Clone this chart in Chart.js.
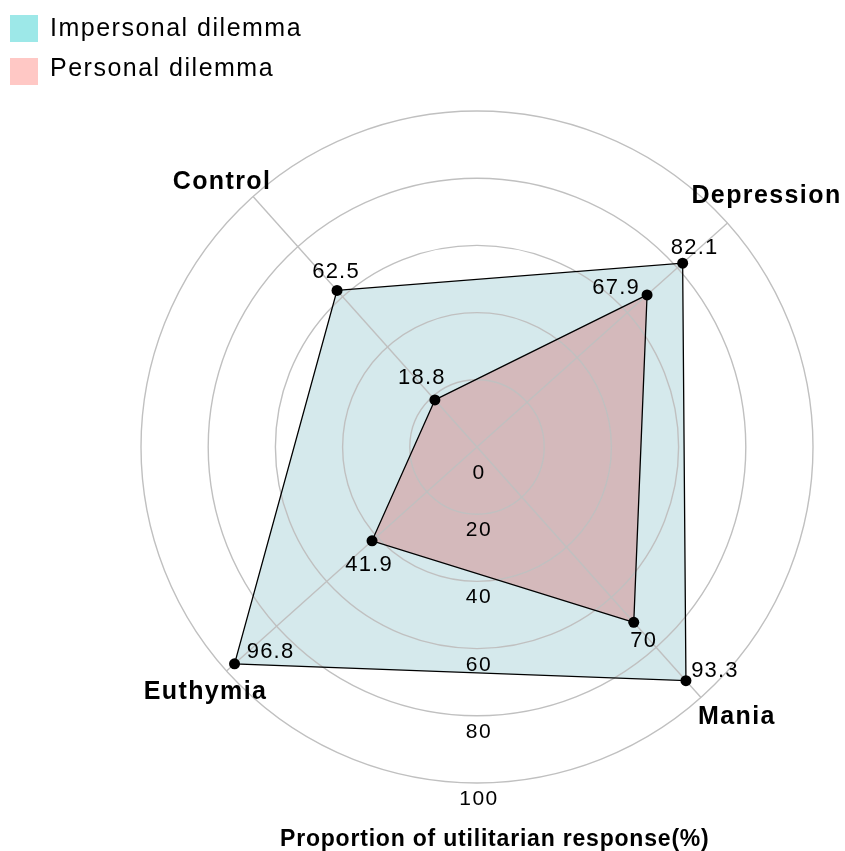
<!DOCTYPE html>
<html>
<head>
<meta charset="utf-8">
<script src="https://cdn.jsdelivr.net/npm/chart.js@4"></script>
<style>
  body { margin: 0; background: #fff; font-family: "Liberation Sans", Arial, sans-serif; }
  #quadro { position: relative; width: 845px; height: 851px; }
  #radar { position: absolute; left: 0; top: 0; }
  .chave { position: absolute; left: 10px; width: 28px; height: 27px; }
  .chaveTexto { position: absolute; left: 50px; font-size: 25px; line-height: 25px; letter-spacing: 1.5px; white-space: nowrap; color: #000; }
  #tituloX { position: absolute; left: 280px; top: 827px; font-size: 23px; line-height: 23px; font-weight: bold; letter-spacing: 0.8px; white-space: nowrap; color: #000; }
</style>
</head>
<body>
<div id="quadro">
  <canvas id="radar" width="845" height="851"></canvas>
  <div class="chave" style="top:15px; background:#9de8e8"></div>
  <div class="chaveTexto" style="top:15px">Impersonal dilemma</div>
  <div class="chave" style="top:58px; background:#ffc8c5"></div>
  <div class="chaveTexto" style="top:55px">Personal dilemma</div>
  <div id="tituloX">Proportion of utilitarian response(%)</div>
</div>
<script>
const grupos = ["Control", "Depression", "Mania", "Euthymia"];
const impessoal = [62.5, 82.1, 93.3, 96.8];
const pessoal = [18.8, 67.9, 70, 41.9];
const marcas = [0, 20, 40, 60, 80, 100];

// onde fica cada rótulo em relação ao seu ponto (px)
const desvioImpessoal = [[-1, -12], [12, -9], [29, -4], [36, -6]];
const desvioPessoal = [[-13, -16], [-31, -1], [10, 25], [-3, 30]];
const desvioGrupos = [[-31, -8], [39, -20], [36, 27], [-21, 28]];

const fonte = '"Liberation Sans", Arial, sans-serif';

const rotulos = {
  id: "rotulos",
  afterDraw(chart) {
    const c = chart.ctx;
    const r = chart.scales.r;
    c.save();
    c.fillStyle = "#000";
    c.textAlign = "center";
    c.textBaseline = "alphabetic";

    // marcas do eixo, por baixo do centro
    c.font = "21px " + fonte;
    c.letterSpacing = "1.5px";
    marcas.forEach(v => {
      const y = r.yCenter + r.getDistanceFromCenterForValue(v) + (v === 0 ? 32 : 22);
      c.fillText(String(v), r.xCenter + 2, y);
    });

    // valores junto aos pontos
    c.font = "22px " + fonte;
    c.letterSpacing = "1.2px";
    [desvioImpessoal, desvioPessoal].forEach((desvio, i) => {
      const meta = chart.getDatasetMeta(i);
      meta.data.forEach((p, k) => {
        c.fillText(String(chart.data.datasets[i].data[k]), p.x + desvio[k][0], p.y + desvio[k][1]);
      });
    });

    // nomes dos grupos
    c.font = "bold 25px " + fonte;
    c.letterSpacing = "1.4px";
    const fora = r.getDistanceFromCenterForValue(100);
    grupos.forEach((g, k) => {
      const pos = r.getPointPosition(k, fora);
      c.fillText(g, pos.x + desvioGrupos[k][0], pos.y + desvioGrupos[k][1]);
    });
    c.restore();
  }
};

new Chart(document.getElementById("radar"), {
  type: "radar",
  data: {
    labels: grupos,
    datasets: [
      {
        label: "Impersonal dilemma",
        data: impessoal,
        order: 2,
        fill: true,
        backgroundColor: "#d5e9ec",
        borderColor: "#000",
        borderWidth: 1.3,
        pointRadius: 5.5,
        pointBorderWidth: 0,
        pointBackgroundColor: "#000"
      },
      {
        label: "Personal dilemma",
        data: pessoal,
        order: 1,
        fill: true,
        backgroundColor: "#d4b9bb",
        borderColor: "#000",
        borderWidth: 1.3,
        pointRadius: 5.5,
        pointBorderWidth: 0,
        pointBackgroundColor: "#000"
      }
    ]
  },
  options: {
    responsive: false,
    animation: false,
    events: [],
    layout: { padding: { left: 141, top: 111, right: 32, bottom: 68 } },
    plugins: {
      legend: { display: false },
      tooltip: { enabled: false },
      filler: { drawTime: "beforeDraw" }
    },
    scales: {
      r: {
        min: 0,
        max: 100,
        startAngle: -41.8,
        ticks: { display: false, stepSize: 20 },
        pointLabels: { display: false },
        grid: { circular: true, color: "#c0c0c0", lineWidth: 1.4 },
        angleLines: { color: "#c0c0c0", lineWidth: 1.4 }
      }
    }
  },
  plugins: [rotulos]
});
</script>
</body>
</html>
